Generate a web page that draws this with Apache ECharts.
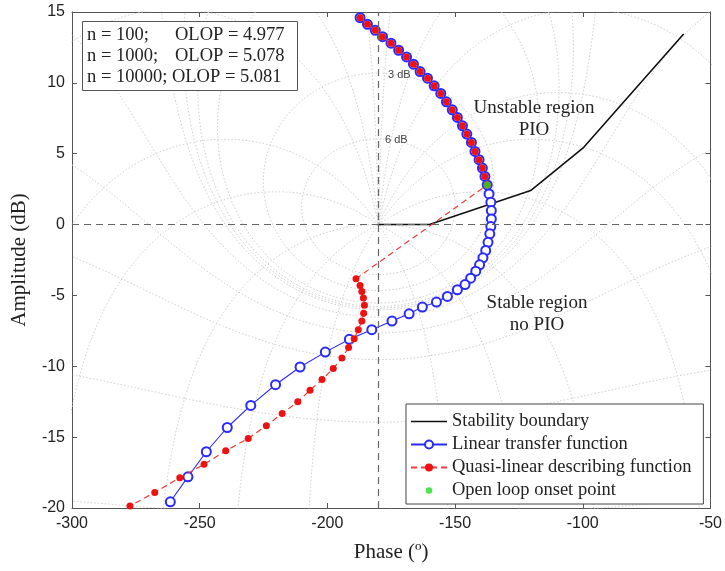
<!DOCTYPE html>
<html><head><meta charset="utf-8">
<script src="https://cdn.jsdelivr.net/npm/echarts@6/dist/echarts.min.js"></script>
<style>html,body{margin:0;padding:0;background:#fff}#c{width:725px;height:571px}</style>
</head><body><div id="c"></div><script>
// ---- data ----
const phaseTicks = [-300, -250, -200, -150, -100, -50];
const gainTicks = [-20, -15, -10, -5, 0, 5, 10, 15];

const boundaryPhase = [-180, -160, -120.4, -99.6, -60.5];
const boundaryGain  = [0, 0, 2.4, 5.45, 13.45];

const linearPhase = [-187.2, -184.3, -181.25, -178.4, -175.1, -172.1, -169, -166.3, -163.7, -160.8,
  -158.2, -155.6, -153.4, -151.1, -149.1, -147.1, -145.4, -143.6, -142.2, -140.6, -139.3, -138.3,
  -137.4, -136.7, -136, -135.8, -135.8, -136, -136.4, -137.1, -138, -139.1, -140.4, -141.9, -143.9,
  -146.1, -149.1, -153, -157.3, -162.8, -168, -174.7, -182.6, -191.4, -200.8, -210.7, -220.3, -230,
  -239.2, -247.4, -254.6, -261.5];
const linearGain = [14.6, 14.13, 13.71, 13.26, 12.8, 12.3, 11.83, 11.32, 10.8, 10.33,
  9.79, 9.25, 8.66, 8.1, 7.56, 6.97, 6.39, 5.8, 5.16, 4.58, 3.99, 3.4,
  2.8, 2.16, 1.57, 0.99, 0.4, -0.14, -0.65, -1.25, -1.83, -2.35, -2.84, -3.29, -3.78,
  -4.23, -4.6, -5.07, -5.47, -5.82, -6.3, -6.81, -7.42, -8.1, -9.0, -10.05, -11.3, -12.76,
  -14.32, -16.03, -17.8, -19.56];

const describingPhase = [-187.2, -184.3, -181.25, -178.4, -175.1, -172.1, -169, -166.3, -163.7, -160.8,
  -158.2, -155.6, -153.4, -151.1, -149.1, -147.1, -145.4, -143.6, -142.2, -140.6, -139.3, -138.3,
  -137.4, -188.8, -187.2, -186.5, -185.9, -185.5, -185.8, -186.5, -187.9, -189.5, -191.7, -194.3,
  -197.7, -202.1, -206.8, -211.6, -217.7, -223.9, -231.0, -239.8, -248.3, -257.8, -267.6, -277.3];
const describingGain = [14.6, 14.13, 13.71, 13.26, 12.8, 12.3, 11.83, 11.32, 10.8, 10.33,
  9.79, 9.25, 8.66, 8.1, 7.56, 6.97, 6.39, 5.8, 5.16, 4.58, 3.99, 3.4,
  2.8, -3.82, -4.30, -4.72, -5.19, -5.70, -6.25, -6.81, -7.42, -8.05, -8.68, -9.41,
  -10.16, -10.94, -11.69, -12.51, -13.33, -14.2, -15.09, -15.96, -16.92, -17.86, -18.9, -19.86];

const onsetPhase = [-137.4];
const onsetGain  = [2.8];

const infoLeft  = ['n = 100;', 'n = 1000;'];
const infoRight = ['OLOP = 4.977', 'OLOP = 5.078'];
const infoLast  = 'n = 10000; OLOP = 5.081';

// ---- Nichols chart background grid (standard closed-loop contours) ----
const gridGainsDb = [6, 3, 1, 0.5, 0.25, 0, -1, -3, -6, -12, -20, -40];
const gridPhasesDeg = [-1, -5, -10, -20, -30, -50, -90, -120, -150, -210, -240, -270, -310, -330, -350, -355, -359];

function openLoopPoint(tr, ti) {
  const dr = 1 - tr, di = -ti;
  const den = dr * dr + di * di;
  const lr = (tr - (tr * tr + ti * ti)) / den;
  const li = ti / den;
  let p = Math.atan2(li, lr) * 180 / Math.PI;
  if (p > 0) p -= 360;
  const g = 10 * Math.log10(lr * lr + li * li);
  return [p, g];
}
function gainContour(mdB) {
  const M = Math.pow(10, mdB / 20), pts = [], N = 1440;
  for (let i = 1; i < N; i++) {
    const th = 2 * Math.PI * i / N;
    pts.push(openLoopPoint(M * Math.cos(th), M * Math.sin(th)));
  }
  return pts;
}
function phaseContour(psiDeg) {
  const psi = psiDeg * Math.PI / 180, pts = [], N = 3000;
  for (let k = 0; k <= N; k++) {
    const r = Math.pow(10, -2 + 5 * k / N);
    pts.push(openLoopPoint(r * Math.cos(psi), r * Math.sin(psi)));
  }
  return pts;
}

const zip = (a, b) => a.map((v, i) => [v, b[i]]);
const serif = 'Liberation Serif';
const sans = 'Liberation Sans';
const gridLine = { color: '#c8c8c8', width: 0.9, type: [1.5, 2] };

const series = [];
gridGainsDb.forEach(m => series.push({
  type: 'line', data: gainContour(m), showSymbol: false, silent: true, animation: false,
  lineStyle: gridLine, z: 1
}));
gridPhasesDeg.forEach(p => series.push({
  type: 'line', data: phaseContour(p), showSymbol: false, silent: true, animation: false,
  lineStyle: gridLine, z: 1
}));
series.push({
  type: 'line', data: [], silent: true, animation: false, z: 1,
  markLine: {
    silent: true, symbol: 'none', animation: false, label: { show: false },
    lineStyle: { color: '#666', type: [7, 5], width: 1.2 },
    data: [{ xAxis: -180 }, { yAxis: 0 }]
  }
});
series.push({
  name: 'Stability boundary', type: 'line', data: zip(boundaryPhase, boundaryGain),
  showSymbol: false, symbol: 'none', animation: false, z: 3,
  lineStyle: { color: '#111', width: 1.6 }, itemStyle: { color: '#111' }
});
series.push({
  name: 'Linear transfer function', type: 'line', data: zip(linearPhase, linearGain),
  symbol: 'emptyCircle', symbolSize: 9, showAllSymbol: true, animation: false, z: 4,
  lineStyle: { color: '#2a2aff', width: 1.1 },
  itemStyle: { color: '#2a2aff', borderColor: '#2a2aff', borderWidth: 1.1 }
});
series.push({
  name: 'Quasi-linear describing function', type: 'line', data: zip(describingPhase, describingGain),
  symbol: 'circle', symbolSize: 7, showAllSymbol: true, animation: false, z: 5,
  lineStyle: { color: '#f03a3a', width: 1.2, type: [6, 4] },
  itemStyle: { color: '#ee1111' }
});
series.push({
  name: 'Open loop onset point', type: 'scatter', data: zip(onsetPhase, onsetGain),
  symbol: 'circle', symbolSize: 7, animation: false, z: 6,
  itemStyle: { color: '#1ee01e' }
});

const axisCol = '#555';
const labelStyle = { fontFamily: sans, fontSize: 16, color: '#222' };
const xBase = { type: 'value', min: phaseTicks[0], max: phaseTicks[phaseTicks.length - 1],
  interval: phaseTicks[1] - phaseTicks[0] };
const yBase = { type: 'value', min: gainTicks[0], max: gainTicks[gainTicks.length - 1],
  interval: gainTicks[1] - gainTicks[0] };

const option = {
  animation: false,
  backgroundColor: '#fff',
  grid: { left: 72, right: 13, top: 12, bottom: 63 },
  xAxis: [
    Object.assign({}, xBase, {
      position: 'bottom',
      axisLine: { show: true, onZero: false, lineStyle: { color: axisCol } },
      axisTick: { inside: true, length: 5, lineStyle: { color: axisCol } },
      axisLabel: Object.assign({ margin: 8 }, labelStyle),
      splitLine: { show: false },
      name: 'Phase (º)', nameLocation: 'middle', nameGap: 34,
      nameTextStyle: { fontFamily: serif, fontSize: 21, color: '#222' }
    }),
    Object.assign({}, xBase, {
      position: 'top',
      axisLine: { show: true, onZero: false, lineStyle: { color: axisCol } },
      axisTick: { inside: true, length: 5, lineStyle: { color: axisCol } },
      axisLabel: { show: false }, splitLine: { show: false }
    })
  ],
  yAxis: [
    Object.assign({}, yBase, {
      position: 'left',
      axisLine: { show: true, onZero: false, lineStyle: { color: axisCol } },
      axisTick: { inside: true, length: 5, lineStyle: { color: axisCol } },
      axisLabel: Object.assign({ margin: 7 }, labelStyle),
      splitLine: { show: false },
      name: 'Amplitude (dB)', nameLocation: 'middle', nameGap: 42,
      nameTextStyle: { fontFamily: serif, fontSize: 21, color: '#222' }
    }),
    Object.assign({}, yBase, {
      position: 'right',
      axisLine: { show: true, onZero: false, lineStyle: { color: axisCol } },
      axisTick: { inside: true, length: 5, lineStyle: { color: axisCol } },
      axisLabel: { show: false }, splitLine: { show: false }
    })
  ],
  legend: {
    orient: 'vertical', left: 406, top: 404,
    padding: [8, 12, 4, 4], itemGap: 4, itemWidth: 36, itemHeight: 10,
    backgroundColor: '#fff', borderColor: '#444', borderWidth: 1, borderRadius: 0,
    selectedMode: false,
    textStyle: { fontFamily: serif, fontSize: 18.5, color: '#222', lineHeight: 18 },
    data: [
      { name: 'Stability boundary', icon: 'path://M0,4.3L36,4.3L36,5.7L0,5.7Z' },
      { name: 'Linear transfer function' },
      { name: 'Quasi-linear describing function' },
      { name: 'Open loop onset point', icon: 'path://M0,0M10,10M1.7,5a3.3,3.3 0 1,0 6.6,0a3.3,3.3 0 1,0 -6.6,0Z' }
    ]
  },
  graphic: [
    { type: 'rect', left: 82, top: 21, shape: { width: 215, height: 69 },
      style: { fill: '#fff', stroke: '#555', lineWidth: 1 }, z: 100 },
    { type: 'text', x: 87, y: 35, style: { text: infoLeft[0], fontFamily: serif, fontSize: 18.5, fill: '#222', verticalAlign: 'middle' }, z: 101 },
    { type: 'text', x: 175, y: 35, style: { text: infoRight[0], fontFamily: serif, fontSize: 18.5, fill: '#222', verticalAlign: 'middle' }, z: 101 },
    { type: 'text', x: 87, y: 56, style: { text: infoLeft[1], fontFamily: serif, fontSize: 18.5, fill: '#222', verticalAlign: 'middle' }, z: 101 },
    { type: 'text', x: 175, y: 56, style: { text: infoRight[1], fontFamily: serif, fontSize: 18.5, fill: '#222', verticalAlign: 'middle' }, z: 101 },
    { type: 'text', x: 87, y: 77, style: { text: infoLast, fontFamily: serif, fontSize: 18.5, fill: '#222', verticalAlign: 'middle' }, z: 101 },
    { type: 'text', x: 534, y: 108, style: { text: 'Unstable region', fontFamily: serif, fontSize: 19, fill: '#222', align: 'center', verticalAlign: 'middle' }, z: 101 },
    { type: 'text', x: 534, y: 130, style: { text: 'PIO', fontFamily: serif, fontSize: 19, fill: '#222', align: 'center', verticalAlign: 'middle' }, z: 101 },
    { type: 'text', x: 537, y: 303, style: { text: 'Stable region', fontFamily: serif, fontSize: 19, fill: '#222', align: 'center', verticalAlign: 'middle' }, z: 101 },
    { type: 'text', x: 537, y: 325, style: { text: 'no PIO', fontFamily: serif, fontSize: 19, fill: '#222', align: 'center', verticalAlign: 'middle' }, z: 101 },
    { type: 'text', x: 388, y: 75, style: { text: '3 dB', fontFamily: sans, fontSize: 11, fill: '#444', verticalAlign: 'middle' }, z: 101 },
    { type: 'text', x: 385, y: 140, style: { text: '6 dB', fontFamily: sans, fontSize: 11, fill: '#444', verticalAlign: 'middle' }, z: 101 }
  ],
  series: series
};
const chart = echarts.init(document.getElementById('c'), null, { renderer: 'canvas' });
chart.setOption(option);
</script></body></html>
